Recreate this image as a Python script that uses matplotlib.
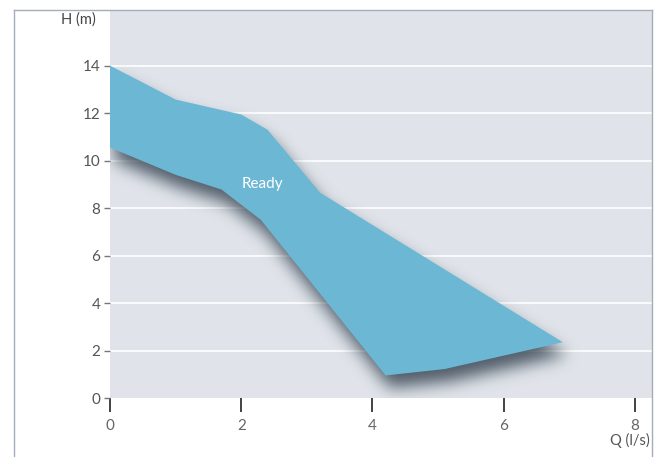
import matplotlib
matplotlib.use("Agg")
import matplotlib.pyplot as plt
from matplotlib.lines import Line2D
from matplotlib.path import Path
import numpy as np

# upper and lower edges of the "Ready" working area
upper_q = [0, 1.0, 2.0, 2.4, 3.2, 6.9]
upper_h = [14.0, 12.57, 11.94, 11.3, 8.65, 2.35]
lower_q = [0, 1.0, 1.7, 2.3, 4.2, 5.1, 6.9]
lower_h = [10.55, 9.4, 8.78, 7.5, 0.95, 1.22, 2.35]

x_ticks = [0, 2, 4, 6, 8]
y_ticks = [0, 2, 4, 6, 8, 10, 12, 14]

plt.rcParams['font.family'] = ['Lato', 'DejaVu Sans']

fig = plt.figure(figsize=(6.55, 4.57), dpi=100)
ax = fig.add_axes([110/655, 1-398/457, 542/655, 387/457])
ax.set_facecolor('#e0e4ea')
xmax, ymax = 8.26, 16.3
ax.set_xlim(0, xmax)
ax.set_ylim(0, ymax)

for y in y_ticks[1:]:
    ax.axhline(y, color='white', lw=1.2, zorder=1)

poly_q = upper_q + lower_q[::-1]
poly_h = upper_h + lower_h[::-1]

# blurred drop shadow: rasterise the shifted polygon and blur it
nx, ny = 542, 387
gx = np.linspace(0, xmax, nx)
gy = np.linspace(0, ymax, ny)
X, Y = np.meshgrid(gx, gy)
shift = np.column_stack([np.array(poly_q) + 0.07, np.array(poly_h) - 0.55])
mask = Path(shift).contains_points(np.column_stack([X.ravel(), Y.ravel()]))
mask = mask.reshape(ny, nx).astype(float)
sig = 8.0
k = np.arange(-int(3*sig), int(3*sig)+1)
kern = np.exp(-k**2 / (2*sig**2))
kern /= kern.sum()
blur = np.apply_along_axis(lambda r: np.convolve(r, kern, mode='same'), 1, mask)
blur = np.apply_along_axis(lambda c: np.convolve(c, kern, mode='same'), 0, blur)
rgba = np.zeros((ny, nx, 4))
rgba[..., 0] = 0x36/255
rgba[..., 1] = 0x44/255
rgba[..., 2] = 0x52/255
rgba[..., 3] = blur * 0.85
ax.imshow(rgba, extent=[0, xmax, 0, ymax], origin='lower', aspect='auto', zorder=2,
          interpolation='bilinear')

ax.fill(poly_q, poly_h, color='#6cb8d4', lw=0, zorder=3)
ax.text(2.33, 9.0, 'Ready', color='white', fontsize=11, ha='center', va='center', zorder=4)

for s in ax.spines.values():
    s.set_visible(False)

ax.set_xticks(x_ticks)
ax.set_yticks(y_ticks)
ax.tick_params(axis='x', length=10, width=1.2, color='#222222', labelcolor='#666666',
               labelsize=11, pad=5)
ax.tick_params(axis='y', length=4, width=1, color='#777777', labelcolor='#555555',
               labelsize=11, pad=3)

fig.text(78/655, 1-20/457, 'H (m)', fontsize=10.5, color='#444444', ha='center', va='center')
fig.text(630/655, 1-440/457, 'Q (l/s)', fontsize=10.5, color='#555555', ha='center', va='center')

# outer frame
c = '#a3adbb'
fig.add_artist(Line2D([14/655, 14/655], [0, 1-10/457], color=c, lw=1))
fig.add_artist(Line2D([14/655, 652/655], [1-10/457, 1-10/457], color=c, lw=1))
fig.add_artist(Line2D([652/655, 652/655], [0, 1-10/457], color=c, lw=1))

fig.savefig('out.png', dpi=100)
